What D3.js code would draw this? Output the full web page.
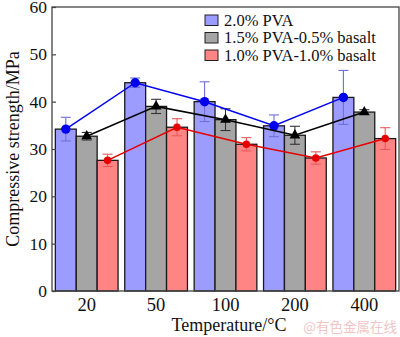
<!DOCTYPE html>
<html><head><meta charset="utf-8">
<script src="https://cdn.jsdelivr.net/npm/d3@7"></script>
<style>body{margin:0;background:#fff}svg{display:block}</style>
</head><body>
<svg id="c" width="400" height="337"></svg>
<script>
const categories = ["20","50","100","200","400"];
const seriesNames = ["2.0% PVA","1.5% PVA-0.5% basalt","1.0% PVA-1.0% basalt"];
const pva20 = [34.2, 44.0, 40.0, 34.9, 40.9];
const pva15 = [32.7, 39.0, 36.2, 32.9, 37.8];
const pva10 = [27.6, 34.6, 31.0, 28.1, 32.2];
const err20 = [2.5, 1.0, 4.2, 2.3, 5.7];
const err15 = [0.8, 1.5, 2.3, 1.9, 0.5];
const err10 = [1.3, 1.8, 1.4, 1.3, 2.3];
const yTicks = [0,10,20,30,40,50,60];

const series = [
  {name: seriesNames[0], values: pva20, err: err20, fill:"#9c9cff", line:"#0000ee", errc:"#6f6fd8", marker:"circle"},
  {name: seriesNames[1], values: pva15, err: err15, fill:"#a5a5a5", line:"#000000", errc:"#333333", marker:"triangle"},
  {name: seriesNames[2], values: pva10, err: err10, fill:"#ff8585", line:"#e60000", errc:"#e85a5a", marker:"circle"}
];

const svg = d3.select("#c");
const L=52, R=399, T=7, B=291;
const x = d3.scaleBand().domain(categories).range([L,R]).padding(0);
const xs = d3.scaleBand().domain([0,1,2]).range([0,x.bandwidth()]).paddingInner(0).paddingOuter(0.16);
const y = d3.scaleLinear().domain([0,60]).range([B,T]);
const font = "'Liberation Serif','Times New Roman',serif";

// bars
series.forEach((s,si)=>{
  svg.append("g").selectAll("rect").data(s.values).join("rect")
    .attr("x",(d,i)=>x(categories[i])+xs(si))
    .attr("y",d=>y(d))
    .attr("width",xs.bandwidth())
    .attr("height",d=>B-y(d))
    .attr("fill",s.fill).attr("stroke","#1a1a1a").attr("stroke-width",1.3);
});
// error bars
series.forEach((s,si)=>{
  const g=svg.append("g").attr("stroke",s.errc).attr("stroke-width",1.1).attr("fill","none");
  s.values.forEach((v,i)=>{
    const cx=x(categories[i])+xs(si)+xs.bandwidth()/2;
    const e=s.err[i];
    g.append("line").attr("x1",cx).attr("x2",cx).attr("y1",y(v+e)).attr("y2",y(v-e));
    g.append("line").attr("x1",cx-5).attr("x2",cx+5).attr("y1",y(v+e)).attr("y2",y(v+e));
    g.append("line").attr("x1",cx-5).attr("x2",cx+5).attr("y1",y(v-e)).attr("y2",y(v-e));
  });
});
// lines + markers
series.forEach((s,si)=>{
  const cxf=i=>x(categories[i])+xs(si)+xs.bandwidth()/2;
  const line=d3.line().x((d,i)=>cxf(i)).y(d=>y(d));
  svg.append("path").datum(s.values).attr("d",line).attr("fill","none").attr("stroke",s.line).attr("stroke-width",1.5);
  const sym = s.marker==="triangle"? d3.symbolTriangle : d3.symbolCircle;
  const size = si===0?70:(si===1?50:45);
  svg.append("g").selectAll("path").data(s.values).join("path")
    .attr("transform",(d,i)=>`translate(${cxf(i)},${y(d)})`)
    .attr("d",d3.symbol().type(sym).size(size)).attr("fill",s.line);
});

// frame
svg.append("rect").attr("x",L).attr("y",T).attr("width",R-L).attr("height",B-T)
  .attr("fill","none").attr("stroke","#444").attr("stroke-width",1.3);

// y axis
const ya = svg.append("g").attr("transform",`translate(${L},0)`)
  .call(d3.axisLeft(y).tickValues(yTicks).tickSize(-4).tickPadding(5).tickFormat(d3.format("d")));
ya.select(".domain").remove();
ya.selectAll("line").attr("stroke","#444").attr("stroke-width",1.2);
ya.selectAll("text").attr("font-family",font).attr("font-size",17.5).attr("fill","#111");

// x axis
const xa = svg.append("g").attr("transform",`translate(0,${B})`)
  .call(d3.axisBottom(x).tickSize(0).tickPadding(7));
xa.select(".domain").remove();
xa.selectAll("text").attr("font-family",font).attr("font-size",18.5).attr("fill","#111");

// titles
svg.append("text").attr("x",229).attr("y",331).attr("text-anchor","middle")
  .attr("font-family",font).attr("font-size",18).attr("fill","#111").text("Temperature/°C");
svg.append("text").attr("transform",`translate(19,${(T+B)/2}) rotate(-90)`).attr("text-anchor","middle")
  .attr("font-family",font).attr("font-size",18).attr("fill","#111").text("Compressive strength/MPa");

// legend
const lg = svg.append("g");
series.forEach((s,i)=>{
  const cy=20+i*17.5;
  lg.append("rect").attr("x",205).attr("y",cy-5).attr("width",13).attr("height",10.5)
    .attr("fill",s.fill).attr("stroke","#222").attr("stroke-width",1);
  lg.append("text").attr("x",224).attr("y",cy+5.5).attr("font-family",font).attr("font-size",16.5)
    .attr("fill","#111").text(s.name);
});

// watermark
svg.append("text").attr("x",397).attr("y",332).attr("text-anchor","end")
  .attr("font-family","'Noto Sans CJK SC',sans-serif").attr("font-size",13.5).attr("fill","#f2c6c6")
  .text("@有色金属在线");
</script>
</body></html>
